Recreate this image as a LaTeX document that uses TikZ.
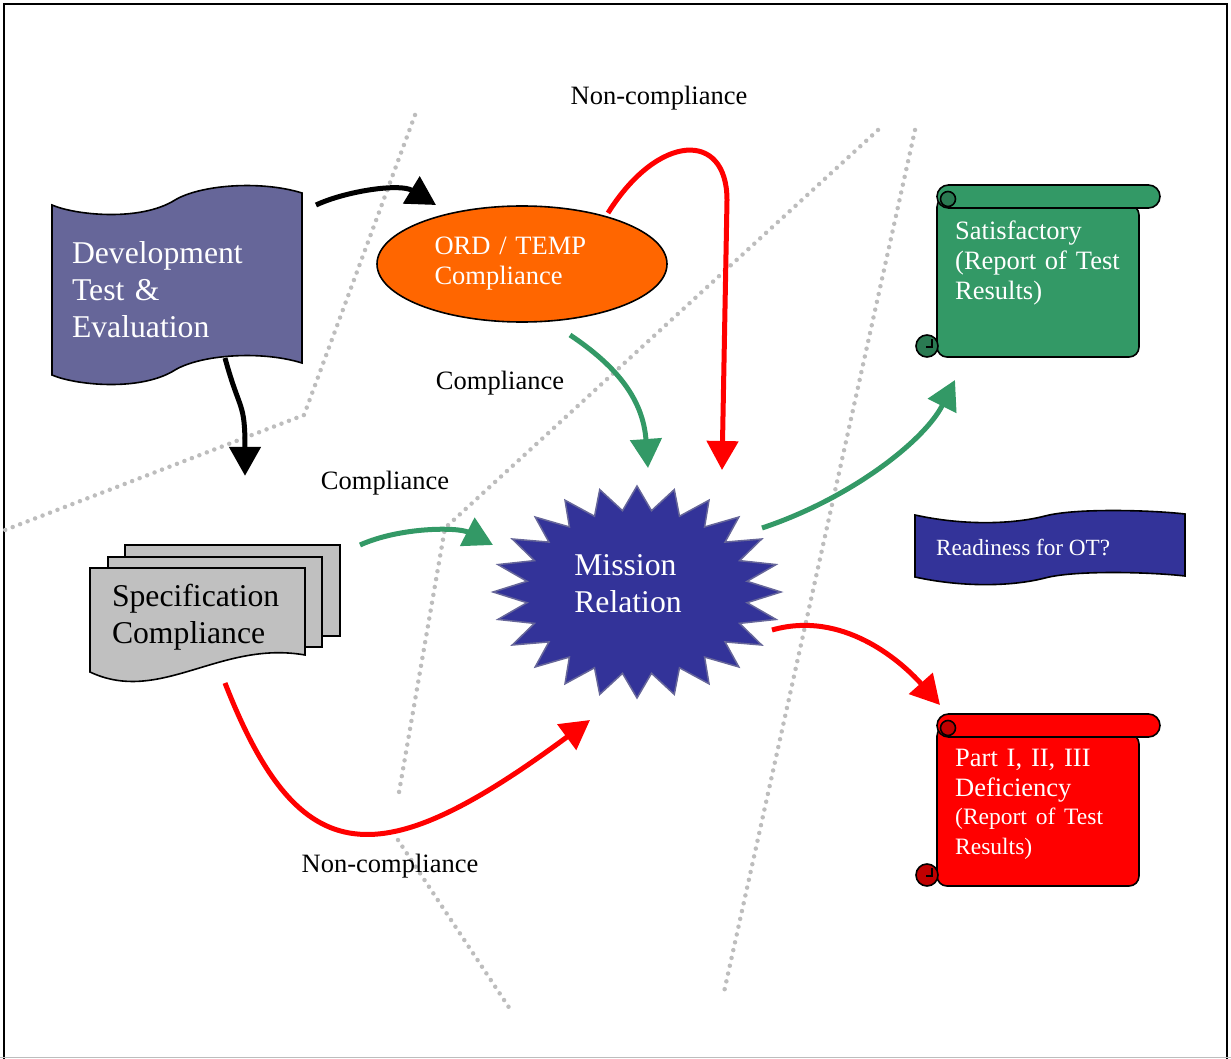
\documentclass[tikz,border=0pt]{standalone}
\usepackage{fontspec}
\setmainfont{Liberation Serif}
\usetikzlibrary{positioning,arrows.meta,calc,shapes.geometric}
\definecolor{dteblue}{HTML}{666699}
\definecolor{starblue}{HTML}{333399}
\definecolor{ordorange}{HTML}{FF6600}
\definecolor{specgray}{HTML}{C0C0C0}
\definecolor{okgreen}{HTML}{339966}
\definecolor{okgreendark}{HTML}{2A7A52}
\definecolor{badred}{HTML}{FF0000}
\definecolor{badreddark}{HTML}{C00000}
\definecolor{dotgray}{HTML}{BDBDBD}
\tikzset{
  outline/.style={draw=black, line width=1.6pt},
  txt/.style={text=white, align=left, inner sep=0pt},
  bigtext/.style={font=\fontsize{31.7pt}{37pt}\selectfont},
  midtext/.style={font=\fontsize{26.5pt}{30pt}\selectfont},
  arr/.style={-{Triangle[length=29pt,width=31pt]}, line width=5pt},
  sepline/.style={draw=dotgray, line width=4.5pt, line cap=round, dash pattern=on 0pt off 8pt},
  lab/.style={font=\fontsize{26.5pt}{30pt}\selectfont, text=black, inner sep=0pt},
}
\begin{document}
\begin{tikzpicture}[x=1pt,y=-1pt]
  \useasboundingbox (0,0) rectangle (1231,1059);
  % frame
  \draw[line width=2.5pt] (4,1059) -- (4,4) -- (1227,4) -- (1227,1059);
  \draw[line width=1pt, dotgray] (0,1057.5) -- (1231,1057.5);
  % dotted separators
  \draw[sepline] (415,115) -- (304,415) -- (5,530);
  \draw[sepline] (878,130) -- (445,528) -- (398,798);
  \draw[sepline] (398,840) -- (512,1012);
  \draw[sepline] (915,130) -- (724,992);

  % development test & evaluation flag
  \draw[outline, fill=dteblue] (52,205) .. controls (75,215) and (140,222) .. (175,200)
    .. controls (200,185) and (260,180) .. (302,193) -- (302,363)
    .. controls (260,350) and (200,355) .. (175,370)
    .. controls (140,392) and (75,385) .. (52,375) -- cycle;
  \node[txt, bigtext, text width=210pt, minimum width=250pt, minimum height=180pt] (dte)
    at (177,290) {Development\\Test \&\\Evaluation};

  % ORD / TEMP
  \node[ellipse, outline, fill=ordorange, txt, midtext, text width=175pt,
    minimum width=290pt, minimum height=116pt] (ord) at (522,264) {ORD / TEMP\\Compliance};

  % specification stack
  \draw[outline, fill=specgray] (125,545) rectangle (340,636);
  \draw[outline, fill=specgray] (108,557) rectangle (322,647);
  \draw[outline, fill=specgray] (90,568) -- (305,568) -- (305,655)
    .. controls (220,640) and (160,705) .. (90,672) -- cycle;
  \node[txt, bigtext, text=black, text width=170pt, minimum width=215pt,
    minimum height=104pt] (spec) at (197,617) {Specification\\Compliance};

  % mission relation star
  \begin{scope}[shift={(637,592)}]
    \draw[fill=starblue, draw=dteblue, line width=1.5pt] (90:144 and 106)
      \foreach \k in {0,...,23} { -- ({97.5+15*\k}:111 and 82) -- ({105+15*\k}:144 and 106) } -- cycle;
  \end{scope}
  \node[ellipse, txt, bigtext, minimum width=288pt, minimum height=212pt] (mission)
    at (628,584) {Mission\\Relation};

  % report scrolls
  \foreach \top/\fillc/\curlc in {185/okgreen/okgreendark, 714/badred/badreddark} {
    \draw[outline, fill=\fillc, rounded corners=10pt] (937,\top+12) -- (937,\top+172)
      -- (1139,\top+172) -- (1139,\top+20) -- cycle;
    \draw[outline, fill=\fillc, rounded corners=11.5pt] (937,\top) rectangle (1160,\top+23);
    \draw[outline, fill=\curlc] (948,\top+14) circle[radius=7.5pt];
    \draw[outline, fill=\curlc] (927,\top+161) circle[radius=11pt];
    \draw[outline] (932,\top+154) -- (932,\top+162) -- (926,\top+162);
  }
  \node[txt, midtext, anchor=north west, text width=180pt] (sat) at (955,221)
    {Satisfactory\\(Report of Test\\Results)};
  \node[txt, midtext, anchor=north west, text width=180pt] (defic) at (955,749)
    {Part I, II, III\\Deficiency\\\fontsize{23.5pt}{28pt}\selectfont (Report of Test\\Results)};

  % readiness banner
  \draw[outline, fill=starblue] (915,515) .. controls (960,525) and (1010,525) .. (1045,516)
    .. controls (1075,508) and (1150,510) .. (1185,514) -- (1185,576)
    .. controls (1150,572) and (1075,570) .. (1045,578)
    .. controls (1010,587) and (960,587) .. (915,577) -- cycle;
  \node[txt, font=\fontsize{23.2pt}{28pt}\selectfont, anchor=west] (ready) at (936,547) {Readiness for OT?};

  % labels
  \node[lab] (nctop) at (659,98) {Non-compliance};
  \node[lab] (cmpord) at (500,383) {Compliance};
  \node[lab] (cmpspec) at (385,483) {Compliance};
  \node[lab] (ncbot) at (390,866) {Non-compliance};

  % connectors
  \draw[arr] ($(dte.center)+(139,-85)$) .. controls +(30,-14) and +(-36,-22) .. ($(ord.center)+(-86,-59)$);
  \draw[arr] ($(dte.center)+(48,68)$) .. controls +(15,55) and +(0,-75) .. ($(spec.north)+(48,-89)$);
  \draw[arr, okgreen] ($(ord.center)+(48,71)$) .. controls +(45,30) and +(-5,-70) .. ($(mission.center)+(20,-116)$);
  \draw[arr, badred] ($(ord.center)+(86,-51)$) .. controls +(50,-80) and +(0,-70) .. ++(119,-13)
    -- ($(mission.center)+(94,-114)$);
  \draw[arr, okgreen] ($(spec.center)+(163,-72)$) .. controls +(40,-18) and +(-35,-18) .. ($(mission.center)+(-135,-39)$);
  \draw[arr, okgreen] ($(mission.center)+(134,-56)$) .. controls +(90,-30) and +(-30,60) .. ($(sat.north west)+(0,159)$);
  \draw[arr, badred] ($(mission.center)+(144,46)$) .. controls +(70,-20) and +(-40,-45) .. ($(defic.north west)+(-15,-44)$);
  \draw[arr, badred] ($(spec.center)+(28,66)$) .. controls +(75,192) and +(-210,155) .. ($(mission.center)+(-38,136)$);
\end{tikzpicture}
\end{document}
